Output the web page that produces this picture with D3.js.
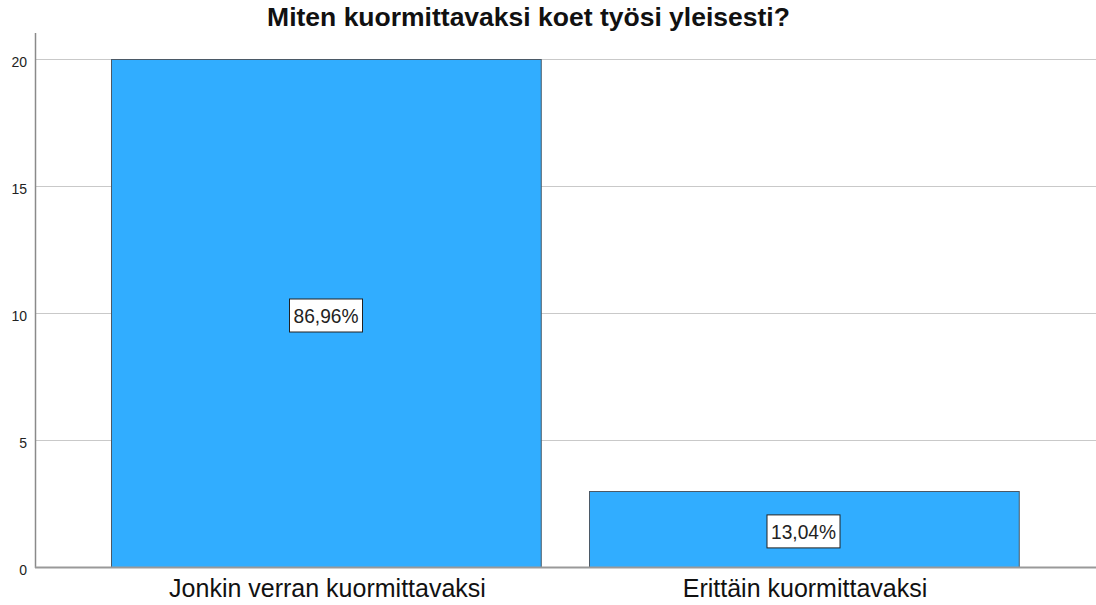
<!DOCTYPE html>
<html><head><meta charset="utf-8">
<script src="https://cdn.jsdelivr.net/npm/d3@7"></script>
<style>body{margin:0;background:#fff;} svg{display:block;font-family:"Liberation Sans",Arial,sans-serif;}</style>
</head><body>
<svg id="c" width="1096" height="605"></svg>
<script>
const title = "Miten kuormittavaksi koet työsi yleisesti?";
const categories = ["Jonkin verran kuormittavaksi", "Erittäin kuormittavaksi"];
const counts = [20, 3];
const percentLabels = ["86,96%", "13,04%"];
const yTicks = [0, 5, 10, 15, 20];

const svg = d3.select("#c");
const axisX = 35, rightEdge = 1096, axisTop = 33;
const y = d3.scaleLinear().domain([0, 20]).range([567, 59]);
const x = d3.scaleBand().domain(categories).range([87.25, 1042.25]).paddingInner(0.1).paddingOuter(0.05);

// gridlines
svg.append("g").selectAll("line").data(yTicks.filter(d => d > 0)).join("line")
  .attr("x1", axisX).attr("x2", rightEdge)
  .attr("y1", d => Math.round(y(d)) + 0.5).attr("y2", d => Math.round(y(d)) + 0.5)
  .attr("stroke", "#c9c9c9").attr("stroke-width", 1);

// y tick labels
svg.append("g").selectAll("text").data(yTicks).join("text")
  .attr("x", 27).attr("y", d => y(d) + 7.5)
  .attr("text-anchor", "end").attr("font-size", 14).attr("fill", "#222")
  .text(d => d);

// bars
svg.append("g").selectAll("rect").data(counts).join("rect")
  .attr("x", (d, i) => Math.round(x(categories[i])) + 0.5)
  .attr("y", d => Math.round(y(d)) + 0.5)
  .attr("width", x.bandwidth())
  .attr("height", d => y(0) - Math.round(y(d)))
  .attr("fill", "#31adff").attr("stroke", "#4b5966").attr("stroke-width", 1);

// axes lines
svg.append("line").attr("x1", axisX + 0.5).attr("x2", axisX + 0.5).attr("y1", axisTop).attr("y2", y(0) + 1)
  .attr("stroke", "#8a8a8a").attr("stroke-width", 1.5);
svg.append("line").attr("x1", axisX).attr("x2", rightEdge).attr("y1", y(0) + 0.5).attr("y2", y(0) + 0.5)
  .attr("stroke", "#999").attr("stroke-width", 2);

// percent label boxes
const lab = svg.append("g").selectAll("g").data(counts).join("g")
  .attr("transform", (d, i) => `translate(${x(categories[i]) + x.bandwidth() / 2},${y(d / 2) + 2.5})`);
lab.append("rect").attr("x", -36.5).attr("y", -16.5).attr("width", 73).attr("height", 33)
  .attr("fill", "#fff").attr("stroke", "#222").attr("stroke-width", 1);
lab.append("text").attr("text-anchor", "middle").attr("y", 7.5).attr("font-size", 20)
  .attr("fill", "#222").attr("textLength", 65).attr("lengthAdjust", "spacingAndGlyphs")
  .text((d, i) => percentLabels[i]);

// category labels
svg.append("g").selectAll("text").data(categories).join("text")
  .attr("x", d => x(d) + x.bandwidth() / 2 + 1.5).attr("y", 597)
  .attr("text-anchor", "middle").attr("font-size", 25).attr("fill", "#111")
  .text(d => d);

// title
svg.append("text").attr("x", 528.5).attr("y", 26).attr("text-anchor", "middle")
  .attr("font-size", 26.5).attr("font-weight", "bold").attr("fill", "#111").text(title);
</script>
</body></html>
